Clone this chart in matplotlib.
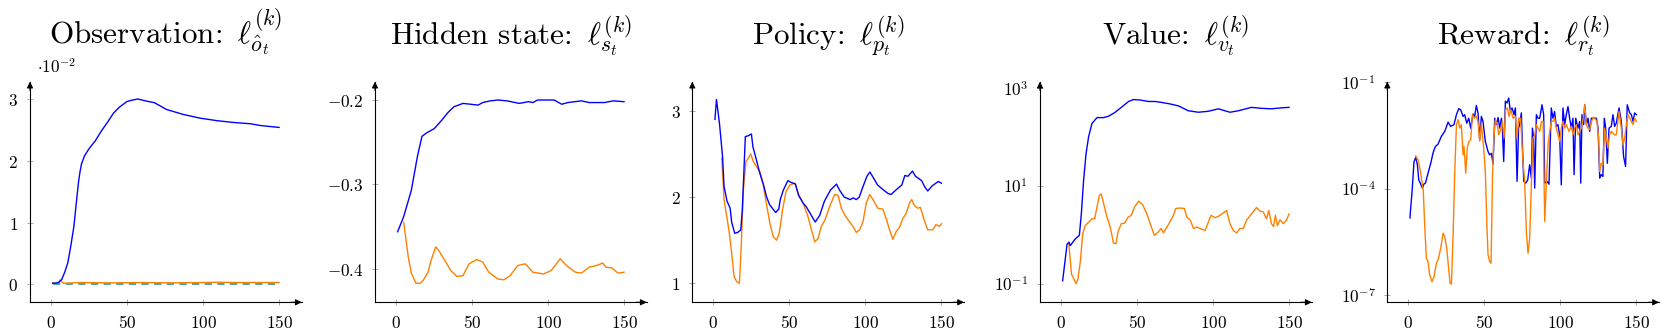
import numpy as np
import matplotlib
matplotlib.use("Agg")
import matplotlib.pyplot as plt
from matplotlib.ticker import NullLocator

plt.rcParams['mathtext.fontset'] = 'cm'
plt.rcParams['axes.unicode_minus'] = True

# ---------------- data ----------------
titles = [r"Observation: $\,\ell^{(k)}_{\hat{o}_t}$",
          r"Hidden state: $\,\ell^{(k)}_{s_t}$",
          r"Policy: $\,\ell^{(k)}_{p_t}$",
          r"Value: $\,\ell^{(k)}_{v_t}$",
          r"Reward: $\,\ell^{(k)}_{r_t}$"]

# Observation (units of 1e-2)
obs_blue_x = [1, 3, 5, 7, 9, 11, 13, 15, 17, 18, 19, 20, 22, 24, 26, 29, 33, 37, 41, 45, 50, 53, 57, 62,
              68, 76, 87, 98, 109, 120, 131, 138, 150]
obs_blue = [0.02, 0.02, 0.03, 0.08, 0.2, 0.35, 0.63, 0.94, 1.42, 1.65, 1.82, 1.95, 2.08, 2.16, 2.23, 2.32,
            2.48, 2.62, 2.77, 2.87, 2.96, 2.98, 3.0, 2.97, 2.94, 2.83, 2.75, 2.69, 2.65, 2.62, 2.60, 2.57, 2.54]
obs_orange_x = [1, 4, 6, 8, 20, 40, 60, 80, 100, 110, 120, 150]
obs_orange = [0.02, 0.02, 0.07, 0.02, 0.03, 0.025, 0.03, 0.025, 0.03, 0.035, 0.03, 0.03]
obs_teal_x = [1, 150]
obs_teal = [0.012, 0.012]

# Hidden state
hid_blue_x = [1, 5, 10, 14, 17, 20, 25, 30, 34, 38, 44, 49, 54, 57, 62, 67, 73, 81, 87, 90, 93, 104,
              109, 113, 122, 127, 137, 143, 150]
hid_blue = [-0.356, -0.338, -0.307, -0.267, -0.243, -0.239, -0.234, -0.224, -0.215, -0.208, -0.204,
            -0.205, -0.206, -0.203, -0.201, -0.200, -0.201, -0.204, -0.202, -0.203, -0.200, -0.200,
            -0.205, -0.203, -0.201, -0.203, -0.203, -0.201, -0.202]
hid_orange_x = [5, 8, 10, 13, 16, 18, 21, 23, 26, 28, 32, 36, 40, 44, 48, 53, 57, 61, 67, 71, 75, 80,
                85, 90, 97, 102, 108, 112, 118, 122, 127, 132, 136, 138, 142, 146, 150]
hid_orange = [-0.345, -0.386, -0.405, -0.417, -0.417, -0.413, -0.404, -0.390, -0.374, -0.378, -0.390,
              -0.402, -0.409, -0.408, -0.394, -0.389, -0.392, -0.404, -0.412, -0.413, -0.408, -0.396,
              -0.394, -0.404, -0.406, -0.402, -0.388, -0.396, -0.404, -0.405, -0.398, -0.396, -0.393,
              -0.398, -0.399, -0.405, -0.404]

# Policy
pol_blue_x = [1, 2, 4, 6, 7, 9, 11, 12, 14, 16, 18, 19, 20, 21, 23, 25, 26, 28, 30, 31, 33, 35, 37, 41,
              43, 44, 46, 49, 51, 54, 56, 59, 61, 63, 67, 70, 73, 77, 81, 83, 86, 90, 92, 94, 96, 98,
              101, 103, 105, 108, 112, 115, 117, 120, 124, 126, 128, 131, 133, 137, 139, 141, 144, 148, 150]
pol_blue = [2.90, 3.13, 2.85, 2.47, 2.12, 1.95, 1.87, 1.71, 1.58, 1.59, 1.62, 1.85, 2.27, 2.70, 2.71,
            2.73, 2.58, 2.45, 2.31, 2.25, 2.14, 2.0, 1.91, 1.82, 1.86, 1.97, 2.08, 2.19, 2.17, 2.15,
            2.02, 1.93, 1.89, 1.83, 1.71, 1.79, 1.95, 2.08, 2.15, 2.08, 2.0, 1.97, 1.99, 1.97, 2.0,
            2.10, 2.24, 2.29, 2.23, 2.14, 2.08, 2.04, 2.03, 2.08, 2.14, 2.25, 2.24, 2.30, 2.24, 2.19,
            2.12, 2.07, 2.13, 2.18, 2.16]
pol_orange_x = [5.5, 7, 8.8, 10.5, 12, 13.6, 15.3, 17.1, 18.2, 19.7, 21.4, 23, 24.5, 26.3, 28.4, 30.6,
                32.8, 35, 37.2, 39.4, 41.6, 43.3, 45.5, 47.7, 50.3, 53.6, 55.8, 59, 62.3, 64.5, 66.7,
                68.9, 71, 73.3, 76.3, 79.8, 82, 84.2, 86.4, 89.7, 91.8, 94, 96.2, 98.4, 100.6, 102.8,
                105, 108.2, 111.5, 113.7, 115.9, 118.1, 120.3, 122.5, 124.6, 126.8, 129, 130.5, 132.3,
                134.5, 136.2, 138.4, 141, 144.3, 146.5, 148.7, 150]
pol_orange = [2.45, 1.97, 1.77, 1.58, 1.35, 1.08, 1.02, 1.0, 1.39, 2.08, 2.41, 2.45, 2.50, 2.41, 2.35,
              2.29, 2.14, 1.91, 1.69, 1.54, 1.50, 1.58, 1.85, 2.06, 2.14, 2.16, 2.04, 1.93, 1.77, 1.62,
              1.48, 1.52, 1.66, 1.73, 1.88, 2.03, 2.02, 1.87, 1.79, 1.71, 1.66, 1.59, 1.62, 1.71, 1.93,
              2.03, 1.97, 1.87, 1.86, 1.75, 1.62, 1.51, 1.60, 1.65, 1.75, 1.81, 1.93, 1.97, 1.90, 1.87,
              1.88, 1.75, 1.62, 1.62, 1.68, 1.66, 1.69]

# Value (log10 of the loss)
val_blue_x = [1, 3.9, 5.2, 6, 9.4, 12, 13.3, 14.8, 16.4, 18.1, 20.3, 23.6, 28, 31.3, 35.6, 40, 44.4, 47.7,
              52, 57.5, 61.9, 66.2, 71.7, 77.2, 83.7, 90.3, 96.9, 103.5, 106.7, 111.1, 116.6, 125.3,
              131.9, 138.4, 145, 150]
val_blue_log = [-0.94, -0.19, -0.15, -0.22, -0.08, -0.01, 0.43, 1.12, 1.66, 2.01, 2.28, 2.40, 2.40, 2.43,
                2.51, 2.62, 2.73, 2.77, 2.76, 2.73, 2.73, 2.71, 2.68, 2.64, 2.54, 2.51, 2.53, 2.58,
                2.55, 2.51, 2.54, 2.61, 2.59, 2.58, 2.60, 2.61]
val_orange_x = [5, 6.8, 8.3, 9.8, 11.1, 12.7, 14.2, 15.9, 18.1, 20.3, 22.1, 23.6, 25.2, 26.4, 28, 30.2,
                32.3, 34.5, 36.1, 37.4, 39.6, 41.8, 44, 46.2, 48.3, 51, 53.6, 56.4, 58.6, 61.4, 64, 65.8,
                67.3, 70.6, 73.9, 75.4, 78.3, 81.1, 82.8, 85, 87.1, 89.2, 91.4, 94.7, 96.9, 98.6, 101.3,
                103.5, 106.7, 108.9, 111.1, 113.3, 115.5, 117.6, 119.8, 122, 125.3, 128.6, 130.8, 133,
                135.2, 136.7, 138.4, 139.8, 141, 142.4, 144, 146.1, 148.3, 150]
val_orange_log = [-0.15, -0.80, -0.90, -1.0, -0.90, -0.53, 0.02, 0.19, 0.26, 0.33, 0.33, 0.57, 0.81, 0.84,
                  0.64, 0.36, 0.16, -0.17, -0.18, 0.06, 0.23, 0.24, 0.36, 0.40, 0.57, 0.69, 0.62, 0.43,
                  0.23, -0.01, 0.06, 0.13, 0.04, 0.21, 0.40, 0.54, 0.55, 0.54, 0.36, 0.30, 0.13, 0.16,
                  0.13, 0.09, 0.26, 0.40, 0.35, 0.38, 0.45, 0.50, 0.23, 0.09, 0.04, 0.13, 0.13, 0.30,
                  0.43, 0.56, 0.49, 0.47, 0.33, 0.50, 0.23, 0.17, 0.40, 0.19, 0.31, 0.23, 0.30, 0.43]

# Reward (log10 of the loss)
rew_blue_x = [1, 2.4, 3.7, 4.8, 5.9, 6.8, 8.1, 9.2, 10.1, 11.2, 12.9, 14.7, 16.2, 17.7, 19.5, 21.7, 23.9,
              26.1, 27.8, 30, 31.6, 33.1, 34.4, 36, 37, 38.4, 39.7, 41, 42.5, 43.6, 44.7, 45.8, 46.9, 48,
              49.1, 50.6, 52.4, 53.4, 54.6, 55.7, 56.8, 57.9, 59, 60.1, 61.2, 61.8, 62.7, 63.8, 64.9, 66,
              67.1, 68.2, 69.5, 70.4, 71.5, 72.5, 73.2, 74.3, 75, 75.9, 77.2, 78.5, 79.8, 80.9, 81.6,
              82.4, 83.1, 84.2, 85.3, 86.4, 87.9, 89, 89.7, 91.2, 92.5, 94, 95.1, 96.2, 97.3, 98.4, 99.5,
              100.6, 101.7, 102.8, 103.9, 105, 106.1, 107.2, 108.3, 109, 110.1, 111.6, 112.7, 113.4,
              114.2, 115.3, 116, 117.1, 118.2, 119.3, 120.4, 121.5, 123.7, 124.8, 125.9, 126.9, 128,
              128.9, 129.8, 130.9, 132, 133.5, 134.6, 135.7, 136.8, 138.6, 140.1, 141.6, 142.9, 144,
              145.6, 146.7, 147.8, 148.9, 150]
rew_blue_log = [-4.82, -4.07, -3.23, -3.12, -3.32, -3.75, -3.87, -3.98, -3.87, -3.84, -3.56, -3.28, -2.99,
                -2.81, -2.74, -2.52, -2.38, -2.12, -2.24, -2.19, -1.91, -1.74, -1.77, -1.96, -1.91, -2.15,
                -2.01, -2.29, -1.89, -1.96, -1.65, -1.86, -2.62, -1.96, -2.10, -2.66, -2.95, -3.04, -3.0,
                -3.30, -2.01, -2.19, -1.99, -2.29, -2.01, -2.29, -3.23, -1.53, -1.58, -1.44, -1.82, -1.72,
                -1.91, -1.72, -3.79, -2.29, -2.19, -1.86, -2.76, -3.79, -3.84, -3.75, -3.32, -3.70, -2.29,
                -2.57, -3.98, -1.91, -2.01, -2.01, -1.63, -1.91, -3.84, -3.79, -3.87, -1.72, -2.01, -1.82,
                -2.24, -2.19, -2.48, -3.89, -1.72, -2.19, -1.91, -1.68, -2.01, -2.29, -2.01, -3.6, -2.01,
                -2.29, -2.10, -3.84, -1.91, -2.19, -1.63, -2.19, -2.01, -2.38, -2.01, -2.01, -2.01, -2.29,
                -3.70, -3.6, -3.65, -2.01, -2.29, -3.28, -2.29, -2.24, -1.91, -2.24, -2.15, -1.72, -2.10,
                -3.09, -3.37, -1.63, -1.86, -1.91, -2.10, -1.86, -1.91]
rew_orange_x = [4.8, 6.3, 7.7, 9, 9.8, 10.7, 11.8, 12.9, 14, 15.5, 16.9, 18.4, 19.5, 21.3, 22.8, 23.9, 25.2,
                26.3, 27.4, 28.3, 29.4, 30.5, 31.6, 32.7, 33.8, 34.8, 36, 36.6, 37.7, 38.8, 39.9, 41, 42.1,
                43.6, 44.7, 45.8, 46.9, 48, 49.5, 50.6, 51.7, 52.4, 53.5, 54.4, 55.3, 56.1, 57.2, 58.5,
                59.4, 60.7, 61.8, 62.9, 64, 65.1, 66.2, 67.3, 68.9, 70.4, 71.5, 72.5, 73.8, 75.4, 76.5,
                77.6, 78.7, 79.8, 80.9, 82, 83.1, 84.2, 85.3, 86.4, 87.5, 88.6, 89.7, 90.8, 91.9, 93, 94,
                95.1, 96.2, 97.3, 98.4, 99.5, 100.6, 101.7, 102.8, 103.9, 105.7, 107.2, 108.3, 109.4,
                110.5, 111.6, 112.7, 113.8, 114.9, 116, 117.1, 118.2, 119.3, 120.4, 121.5, 122.6, 124.1,
                125.2, 125.9, 126.9, 128, 129.1, 130.2, 131.3, 132.4, 133.5, 134.6, 135.7, 136.8, 138.6,
                140.1, 141.2, 142.3, 143.4, 144.5, 145.6, 146.7, 147.8, 148.9, 150]
rew_orange_log = [-3.07, -3.18, -3.46, -3.84, -4.07, -5.02, -5.96, -6.05, -6.43, -6.62, -6.47, -6.10, -6.00,
                  -5.67, -5.25, -5.35, -5.67, -6.15, -6.66, -6.69, -5.30, -3.51, -2.19, -2.05, -2.29, -2.19,
                  -3.04, -2.81, -3.56, -2.81, -2.66, -2.62, -1.91, -2.01, -1.96, -2.10, -2.66, -2.15, -2.85,
                  -3.51, -5.11, -5.86, -6.05, -6.10, -3.70, -2.66, -2.05, -2.19, -2.48, -2.33, -2.10, -2.57,
                  -1.77, -1.72, -1.96, -1.77, -2.01, -1.96, -2.57, -2.01, -2.01, -3.23, -3.79, -5.2, -5.82,
                  -5.39, -3.89, -2.57, -2.48, -2.19, -2.29, -2.38, -2.10, -2.10, -4.92, -3.79, -2.76, -2.38,
                  -2.10, -2.10, -2.01, -2.29, -2.48, -2.66, -2.29, -2.10, -2.29, -2.19, -2.38, -2.24, -2.48,
                  -2.29, -2.19, -2.48, -2.38, -2.29, -2.05, -1.63, -2.19, -2.29, -2.33, -2.10, -2.01, -2.01,
                  -2.10, -2.57, -3.51, -3.28, -3.32, -2.29, -2.57, -2.85, -2.48, -2.38, -2.43, -2.48, -2.48,
                  -1.82, -2.29, -2.76, -2.57, -2.19, -1.91, -2.01, -2.10, -2.19, -2.01, -2.10]

x_ticks = [0, 50, 100, 150]
obs_yticks = [0, 1, 2, 3]
hid_yticks = [-0.4, -0.3, -0.2]
pol_yticks = [1, 2, 3]
val_yticks = [1e-1, 1e1, 1e3]
val_ytick_labels = [r"$10^{-1}$", r"$10^{1}$", r"$10^{3}$"]
rew_yticks = [1e-7, 1e-4, 1e-1]
rew_ytick_labels = [r"$10^{-7}$", r"$10^{-4}$", r"$10^{-1}$"]

# ---------------- figure ----------------
BLUE = "#0000ff"
ORANGE = "#ff8000"
TEAL = "#3a9e9a"
W, H = 1660, 333
fig = plt.figure(figsize=(W / 100, H / 100), dpi=100)

ax_w = 271.7 / W
ax_h = 220.6 / H
ax_b = (H - 302.3) / H
lefts_px = [30, 375, 692.3, 1040, 1387.3]
axes = [fig.add_axes([l / W, ax_b, ax_w, ax_h]) for l in lefts_px]

TICK_FS = 12.3


def style(ax, title):
    for s in ['top', 'right']:
        ax.spines[s].set_visible(False)
    for s in ['left', 'bottom']:
        ax.spines[s].set_linewidth(0.8)
        ax.spines[s].set_color('black')
    ax.tick_params(direction='inout', length=5, width=0.6, color='#9a9a9a',
                   labelsize=TICK_FS, labelcolor='black', pad=6)
    ax.set_xlim(-13.9, 164.9)
    ax.set_xticks(x_ticks)
    ax.set_xticklabels([rf"${t}$" for t in x_ticks])
    ax.annotate('', xy=(1.0, 0), xytext=(0.96, 0), xycoords='axes fraction',
                arrowprops=dict(arrowstyle='-|>', color='black', lw=0.8,
                                shrinkA=0, shrinkB=0, mutation_scale=9))
    ax.annotate('', xy=(0, 1.0), xytext=(0, 0.96), xycoords='axes fraction',
                arrowprops=dict(arrowstyle='-|>', color='black', lw=0.8,
                                shrinkA=0, shrinkB=0, mutation_scale=9))
    ax.text(0.5, 1.172, title, transform=ax.transAxes, ha='center', va='baseline',
            fontsize=22.4, fontfamily='cmr10')


LW = 1.0

# Observation
ax = axes[0]
ax.plot(obs_teal_x, obs_teal, color=TEAL, lw=1.3, ls=(0, (4, 3)))
ax.plot(obs_orange_x, obs_orange, color=ORANGE, lw=LW)
ax.plot(obs_blue_x, obs_blue, color=BLUE, lw=LW)
ax.set_ylim(-0.29, 3.28)
ax.set_yticks(obs_yticks)
ax.set_yticklabels([rf"${t}$" for t in obs_yticks])
ax.text(0.026, 1.062, r"$\cdot 10^{-2}$", transform=ax.transAxes, fontsize=TICK_FS,
        ha='left', va='center')
style(ax, titles[0])

# Hidden state
ax = axes[1]
ax.plot(hid_orange_x, hid_orange, color=ORANGE, lw=LW)
ax.plot(hid_blue_x, hid_blue, color=BLUE, lw=LW)
ax.set_ylim(-0.4396, -0.1783)
ax.set_yticks(hid_yticks)
ax.set_yticklabels([rf"${t:.1f}$" for t in hid_yticks])
style(ax, titles[1])

# Policy
ax = axes[2]
ax.plot(pol_orange_x, pol_orange, color=ORANGE, lw=LW)
ax.plot(pol_blue_x, pol_blue, color=BLUE, lw=LW)
ax.set_ylim(0.78, 3.336)
ax.set_yticks(pol_yticks)
ax.set_yticklabels([rf"${t}$" for t in pol_yticks])
style(ax, titles[2])

# Value
ax = axes[3]
ax.set_yscale('log')
ax.plot(val_orange_x, 10.0 ** np.array(val_orange_log), color=ORANGE, lw=LW)
ax.plot(val_blue_x, 10.0 ** np.array(val_blue_log), color=BLUE, lw=LW)
ax.set_ylim(10 ** -1.38, 10 ** 3.135)
ax.set_yticks(val_yticks)
ax.set_yticklabels(val_ytick_labels)
ax.yaxis.set_minor_locator(NullLocator())
style(ax, titles[3])

# Reward
ax = axes[4]
ax.set_yscale('log')
ax.plot(rew_blue_x, 10.0 ** np.array(rew_blue_log), color=BLUE, lw=LW)
ax.plot(rew_orange_x, 10.0 ** np.array(rew_orange_log), color=ORANGE, lw=LW)
ax.set_ylim(10 ** -7.2, 10 ** -0.98)
ax.set_yticks(rew_yticks)
ax.set_yticklabels(rew_ytick_labels)
ax.yaxis.set_minor_locator(NullLocator())
style(ax, titles[4])

fig.savefig("out.png", dpi=100)
